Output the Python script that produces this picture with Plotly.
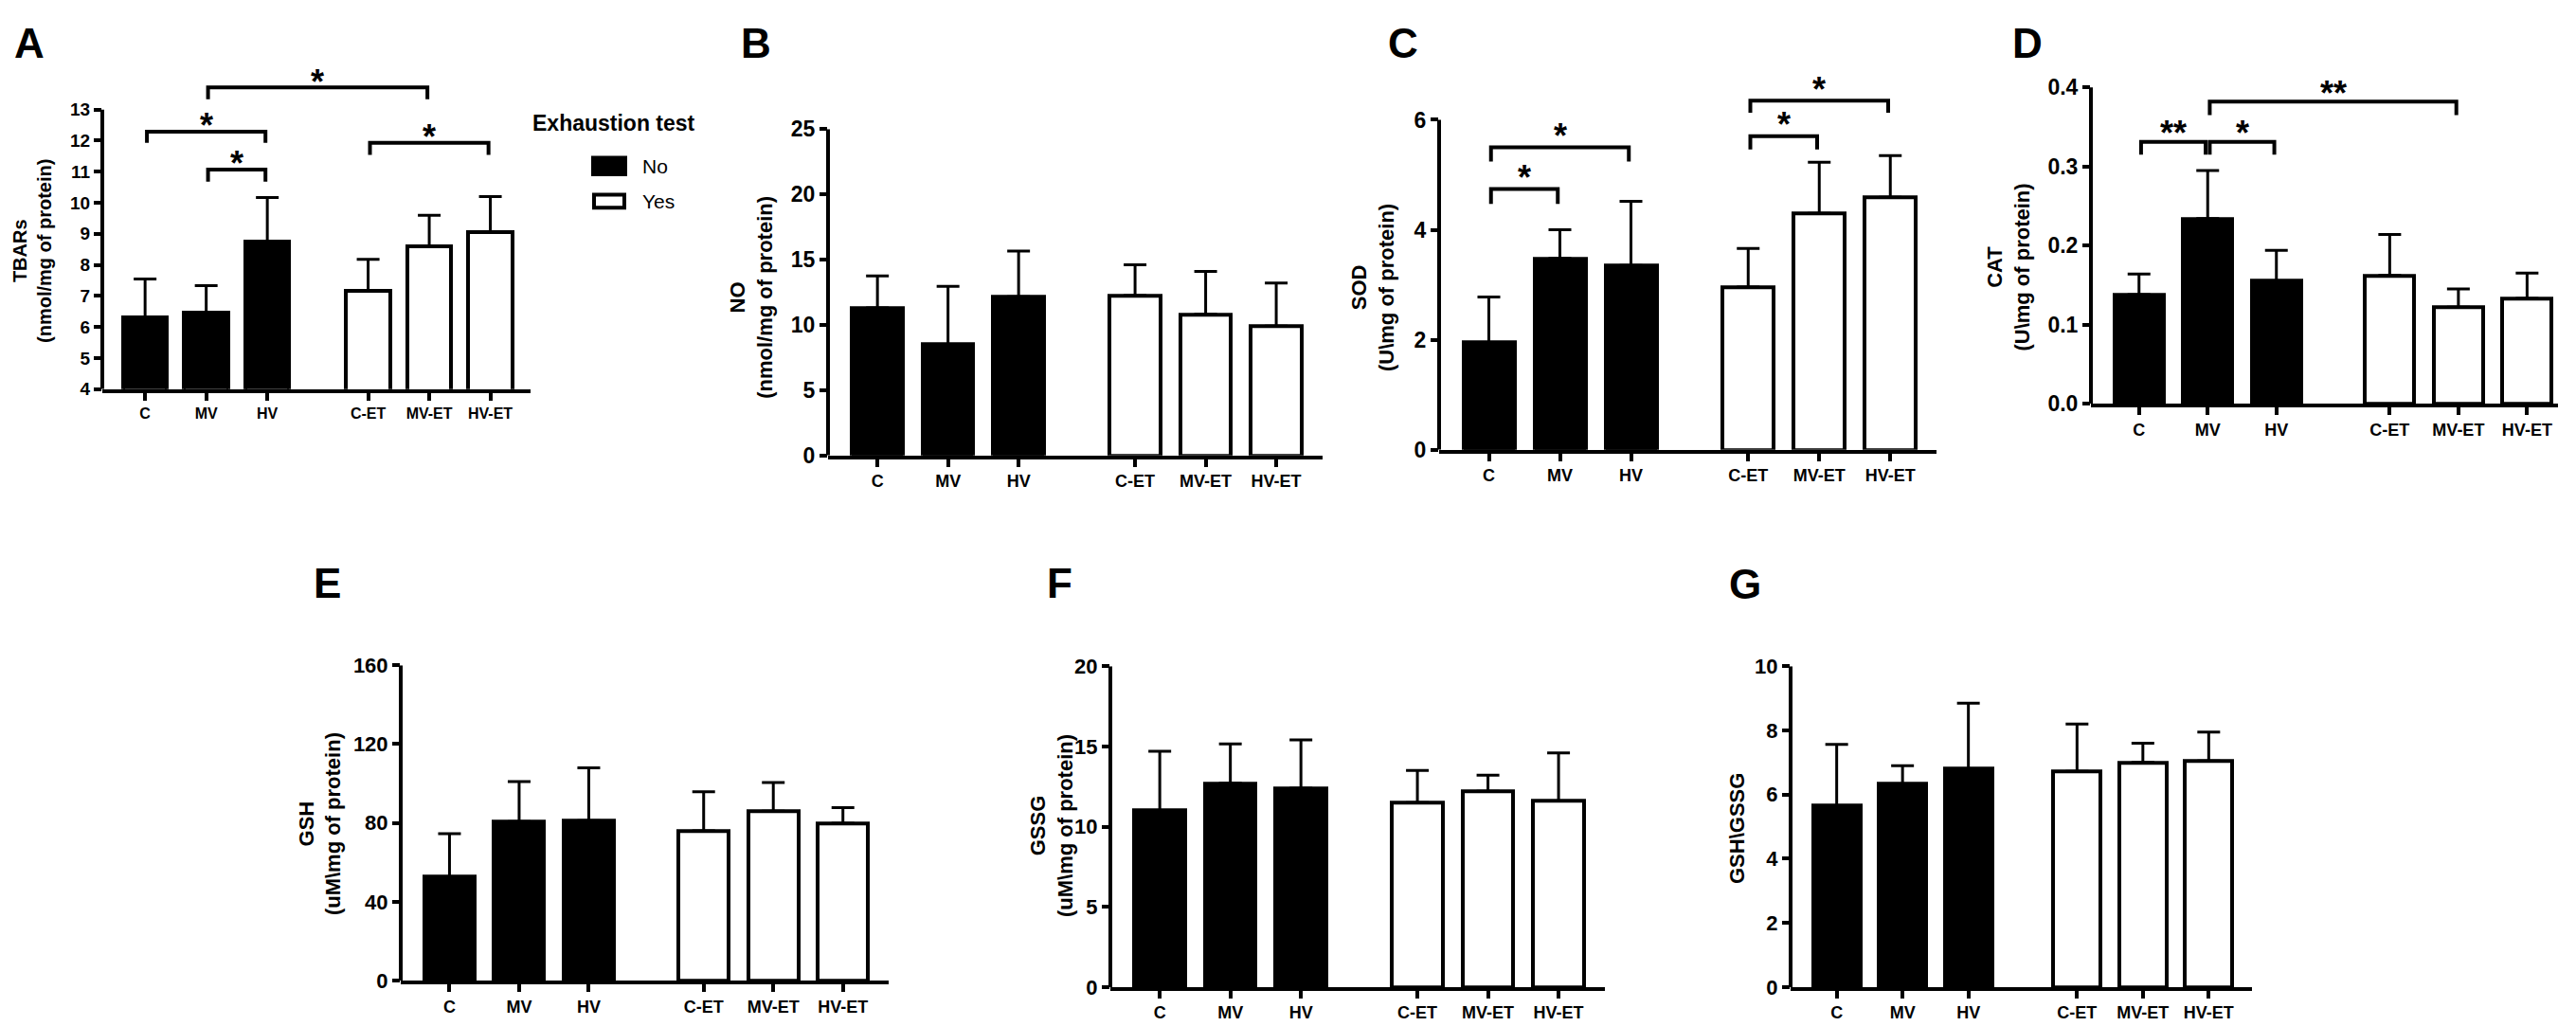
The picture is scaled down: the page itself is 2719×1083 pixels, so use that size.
import plotly.graph_objects as go

W, H = 2719, 1083
FONT = "Liberation Sans, Arial, sans-serif"

# groups and exhaustion-test flag
groups = ["C", "MV", "HV", "C-ET", "MV-ET", "HV-ET"]
exhaustion = ["No", "No", "No", "Yes", "Yes", "Yes"]

# mean and upper error (SD) per group
tbars_mean = [6.3, 6.45, 8.74, 7.15, 8.6, 9.05]
tbars_err = [1.25, 0.88, 1.43, 1.03, 1.0, 1.15]
no_mean = [11.3, 8.5, 12.15, 12.25, 10.8, 9.9]
no_err = [2.45, 4.45, 3.5, 2.35, 3.3, 3.3]
sod_mean = [1.95, 3.48, 3.35, 2.96, 4.3, 4.59]
sod_err = [0.83, 0.52, 1.17, 0.7, 0.93, 0.76]
cat_mean = [0.138, 0.234, 0.155, 0.162, 0.122, 0.133]
cat_err = [0.026, 0.061, 0.039, 0.052, 0.023, 0.032]
gsh_mean = [52.6, 80.7, 81.2, 76.0, 86.0, 79.8]
gsh_err = [22.0, 20.3, 26.8, 19.8, 14.5, 8.0]
gssg_mean = [11.0, 12.7, 12.4, 11.5, 12.2, 11.6]
gssg_err = [3.7, 2.45, 3.0, 2.0, 1.0, 3.0]
ratio_mean = [5.65, 6.33, 6.8, 6.72, 7.0, 7.05]
ratio_err = [1.91, 0.57, 2.05, 1.48, 0.6, 0.9]

# y tick labels
tbars_ticks = [4, 5, 6, 7, 8, 9, 10, 11, 12, 13]
no_ticks = [0, 5, 10, 15, 20, 25]
sod_ticks = [0, 2, 4, 6]
cat_ticks = [0.0, 0.1, 0.2, 0.3, 0.4]
gsh_ticks = [0, 40, 80, 120, 160]
gssg_ticks = [0, 5, 10, 15, 20]
ratio_ticks = [0, 2, 4, 6, 8, 10]

# significance brackets: (from, to, bracket level, leg end, label)
tbars_sig = [("C", "HV", 12.29, 11.93, "*"), ("MV", "HV", 11.07, 10.68, "*"),
             ("MV", "MV-ET", 13.71, 13.33, "*"), ("C-ET", "HV-ET", 11.93, 11.54, "*")]
sod_sig = [("C", "HV", 5.50, 5.24, "*"), ("C", "MV", 4.74, 4.47, "*"),
           ("C-ET", "HV-ET", 6.35, 6.13, "*"), ("C-ET", "MV-ET", 5.70, 5.46, "*")]
cat_sig = [("C", "MV", 0.331, 0.315, "**"), ("MV", "HV", 0.331, 0.315, "*"),
           ("MV", "MV-ET", 0.382, 0.365, "**")]

# layout: bar slot positions with a gap between the two groups
x_pos = [i + (0.65 if i >= 3 else 0) for i in range(len(groups))]
colors = ["black" if e == "No" else "white" for e in exhaustion]


def px(x):
    return x / W


def py(y):
    return 1 - y / H


panels = [
    dict(letter="A", mean=tbars_mean, err=tbars_err, ticks=tbars_ticks, sig=tbars_sig,
         title="TBARs<br>(nmol/mg of protein)", x0=100, slot=64.5, xend=6.3,
         yrange=[4, 14.3], ybot=399.4, ytop=53.3, tfont=19, xfont=16, titlefont=20,
         tpos=(26, 250), lpos=(23, 25), staroff=14),
    dict(letter="B", mean=no_mean, err=no_err, ticks=no_ticks, sig=[],
         title="NO<br>(nmol/mg of protein)", x0=866, slot=74.5, xend=6.3,
         yrange=[0, 25], ybot=471, ytop=118, tfont=23, xfont=18, titlefont=22,
         tpos=(785, 300), lpos=(790, 25), staroff=0),
    dict(letter="C", mean=sod_mean, err=sod_err, ticks=sod_ticks, sig=sod_sig,
         title="SOD<br>(U\\mg of protein)", x0=1511, slot=75, xend=6.3,
         yrange=[0, 6.9], ybot=465, ytop=54.5, tfont=23, xfont=18, titlefont=22,
         tpos=(1441, 290), lpos=(1473, 25), staroff=20),
    dict(letter="D", mean=cat_mean, err=cat_err, ticks=cat_ticks, sig=cat_sig,
         title="CAT<br>(U\\mg of protein)", x0=2199, slot=72.5, xend=6.1,
         yrange=[0, 0.43], ybot=415, ytop=47.4, tfont=23, xfont=18, titlefont=22,
         tpos=(2112, 268), lpos=(2132, 25), staroff=17, fmt=".1f"),
    dict(letter="E", mean=gsh_mean, err=gsh_err, ticks=gsh_ticks, sig=[],
         title="GSH<br>(uM\\mg of protein)", x0=415, slot=73.5, xend=6.3,
         yrange=[0, 160], ybot=1039, ytop=698, tfont=22, xfont=18, titlefont=22,
         tpos=(330, 870), lpos=(337, 609), staroff=0),
    dict(letter="F", mean=gssg_mean, err=gssg_err, ticks=gssg_ticks, sig=[],
         title="GSSG<br>(uM\\mg of protein)", x0=1164, slot=74.5, xend=6.3,
         yrange=[0, 20], ybot=1046, ytop=699, tfont=22, xfont=18, titlefont=22,
         tpos=(1102, 872), lpos=(1110, 609), staroff=0),
    dict(letter="G", mean=ratio_mean, err=ratio_err, ticks=ratio_ticks, sig=[],
         title="GSH\\GSSG", x0=1882, slot=69.5, xend=6.3,
         yrange=[0, 10], ybot=1046, ytop=699, tfont=22, xfont=18, titlefont=22,
         tpos=(1826, 875), lpos=(1834, 610), staroff=0),
]

fig = go.Figure()
shapes = []
annotations = []
XSTART = -0.7

for i, p in enumerate(panels):
    n = "" if i == 0 else str(i + 1)
    xa, ya = "x" + n, "y" + n
    x1 = p["x0"] + p["slot"] * (p["xend"] - XSTART)

    fig.add_trace(go.Bar(
        x=x_pos, y=p["mean"], xaxis=xa, yaxis=ya, width=0.72,
        marker=dict(color=colors, line=dict(color="black", width=4)),
        error_y=dict(type="data", symmetric=False, array=p["err"],
                     arrayminus=[0] * len(groups), color="black", thickness=3, width=12),
        showlegend=False, hoverinfo="skip",
    ))

    # significance brackets
    for a, b, top, leg, lab in p["sig"]:
        xa0 = x_pos[groups.index(a)] + 0.03
        xb0 = x_pos[groups.index(b)] - 0.03
        fig.add_trace(go.Scatter(
            x=[xa0, xa0, xb0, xb0], y=[leg, top, top, leg], xaxis=xa, yaxis=ya,
            mode="lines", line=dict(color="black", width=4),
            showlegend=False, hoverinfo="skip",
        ))
        annotations.append(dict(
            x=(xa0 + xb0) / 2, y=top, xref=xa, yref=ya, text=lab, showarrow=False,
            yanchor="middle", yshift=p["staroff"] - 8,
            font=dict(family=FONT, size=36, color="black", weight="bold"),
        ))

    ax_key = "xaxis" + n
    ay_key = "yaxis" + n
    fig.update_layout({
        ax_key: dict(
            domain=[px(p["x0"]), px(x1)], range=[XSTART, p["xend"]], anchor=ya,
            tickvals=x_pos, ticktext=groups, showline=True, linecolor="black",
            linewidth=4, ticks="outside", ticklen=8, tickwidth=3.5, tickcolor="black",
            showgrid=False, zeroline=False, fixedrange=True,
            tickfont=dict(family=FONT, size=p["xfont"], color="black", weight="bold"),
        ),
        ay_key: dict(
            domain=[py(p["ybot"]), py(p["ytop"])], range=p["yrange"], anchor=xa,
            tickvals=p["ticks"], tickformat=p.get("fmt", ""), showline=False,
            ticks="outside", ticklen=8, tickwidth=3.5, tickcolor="black",
            showgrid=False, zeroline=False, fixedrange=True,
            tickfont=dict(family=FONT, size=p["tfont"], color="black", weight="bold"),
        ),
    })

    # y axis line only up to the last tick
    shapes.append(dict(
        type="line", xref=xa + " domain", yref=ya, x0=0, x1=0,
        y0=p["yrange"][0], y1=p["ticks"][-1], line=dict(color="black", width=4),
    ))

    annotations.append(dict(
        x=px(p["tpos"][0]), y=py(p["tpos"][1]), xref="paper", yref="paper",
        text=p["title"], textangle=-90, showarrow=False,
        xanchor="center", yanchor="middle",
        font=dict(family=FONT, size=p["titlefont"], color="black", weight="bold"),
    ))
    annotations.append(dict(
        x=px(p["lpos"][0]), y=py(p["lpos"][1]), xref="paper", yref="paper",
        text=p["letter"], showarrow=False, xanchor="center", yanchor="middle",
        font=dict(family=FONT, size=44, color="black", weight="bold"),
    ))

# legend drawn by hand
shapes.append(dict(type="rect", xref="paper", yref="paper",
                   x0=px(617), x1=px(653), y0=py(168), y1=py(148),
                   fillcolor="black", line=dict(color="black", width=2)))
shapes.append(dict(type="rect", xref="paper", yref="paper",
                   x0=px(619), x1=px(651), y0=py(203), y1=py(189),
                   fillcolor="white", line=dict(color="black", width=4)))
annotations.append(dict(x=px(552), y=py(112), xref="paper", yref="paper",
                        text="Exhaustion test", showarrow=False, xanchor="left",
                        yanchor="middle",
                        font=dict(family=FONT, size=23, color="black", weight="bold")))
for lab, yy in [("No", 158), ("Yes", 196)]:
    annotations.append(dict(x=px(668), y=py(yy), xref="paper", yref="paper",
                            text=lab, showarrow=False, xanchor="left", yanchor="middle",
                            font=dict(family=FONT, size=21, color="black")))

fig.update_layout(
    width=W, height=H, margin=dict(l=0, r=0, t=0, b=0),
    plot_bgcolor="white", paper_bgcolor="white",
    shapes=shapes, annotations=annotations, showlegend=False, bargap=0,
)

fig.write_html("out.html")
